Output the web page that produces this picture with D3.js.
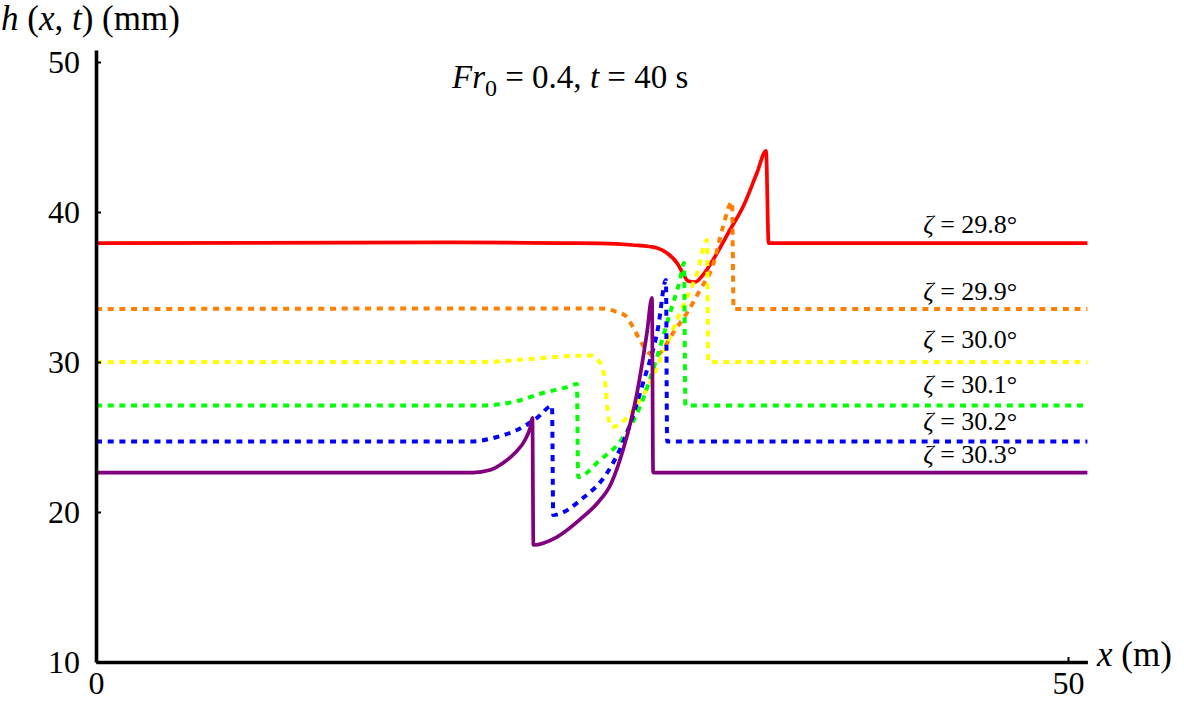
<!DOCTYPE html>
<html>
<head>
<meta charset="utf-8">
<script src="https://cdn.jsdelivr.net/npm/d3@7"></script>
<style>
  body { margin: 0; background: #fff; }
  text { font-family: "Liberation Serif", "Times New Roman", serif; fill: #000; }
</style>
</head>
<body>
<div id="chart"></div>
<script>
// water depth profiles h(x, t) at t = 40 s, one per inclination angle
var red = [[0,37.93],[18.2,37.97],[23.9,37.93],[25.9,37.91],[27.6,37.8],[28.86,37.6],[29.37,37.27],[29.89,36.6],
  [30.19,35.93],[30.45,35.4],[30.81,35.33],[31.22,35.8],[31.74,36.8],[32.1,37.6],[32.61,38.8],[33.28,40.33],
  [34.0,42.6],[34.47,44.07],[34.6,37.93],[51,37.93]];
var orange = [[0,33.53],[23.9,33.57],[25.93,33.57],[26.8,33.33],[27.31,33.0],[27.62,32.33],[27.98,31.47],
  [28.34,30.73],[28.76,30.4],[29.01,30.6],[29.68,31.93],[30.4,33.27],[31.07,34.8],[31.74,36.47],[32.25,39.0],
  [32.72,40.67],[32.8,33.53],[51,33.53]];
var yellow = [[0,30.0],[19.75,30.0],[22.33,30.2],[24.38,30.4],[25.41,30.43],[25.82,30.13],[26.08,29.47],
  [26.23,28.13],[26.34,26.47],[26.54,25.67],[26.8,25.75],[27.62,26.8],[28.5,28.6],[29.17,30.6],[30.04,33.27],
  [30.92,35.93],[31.43,38.13],[31.5,30.0],[51,30.0]];
var green = [[0,27.1],[19.75,27.1],[21.45,27.33],[22.99,27.93],[24.23,28.33],[24.74,28.53],[24.8,22.33],
  [25.93,23.47],[26.95,24.67],[27.98,27.0],[28.86,30.33],[29.53,33.27],[30.04,35.47],[30.25,36.6],[30.32,27.1],[51,27.1]];
var blue = [[0,24.7],[19.24,24.7],[20.63,25.0],[21.66,25.47],[22.69,26.27],[23.46,27.07],[23.52,19.8],
  [25.05,20.93],[26.29,22.6],[27.31,25.27],[28.14,28.6],[28.92,32.33],[29.32,35.47],[29.38,24.7],[51,24.7]];
var purple = [[0,22.63],[19.39,22.63],[20.27,22.8],[20.94,23.27],[21.55,23.93],[22.07,24.8],[22.33,25.6],
  [22.45,26.27],[22.5,17.8],[23.71,18.33],[25.05,19.67],[25.8,20.6],[26.5,21.9],[27.11,24.13],[27.83,27.93],
  [28.34,31.93],[28.6,34.27],[28.66,22.63],[51,22.63]];

var zeta = ["29.8", "29.9", "30.0", "30.1", "30.2", "30.3"];
var labelH = [38.6, 34.13, 30.93, 27.93, 25.47, 23.27];
var labelX = 42.55;
var colors = ["#ff0000", "#ff8000", "#ffff00", "#00ff00", "#0000ff", "#800080"];
var dotted = [false, true, true, true, true, false];
var yTicks = [10, 20, 30, 40, 50];
var xTicks = [0, 50];

var series = [red, orange, yellow, green, blue, purple];

var W = 1184, H = 701;
var svg = d3.select("#chart").append("svg")
  .attr("width", W)
  .attr("height", H);

var x = d3.scaleLinear().domain([0, 51]).range([96, 1087.4]);
var y = d3.scaleLinear().domain([10, 50.8]).range([662, 50]);

var line = d3.line()
  .x(function(d){ return x(d[0]); })
  .y(function(d){ return y(d[1]); })
  .curve(d3.curveMonotoneX);

// curves
svg.selectAll(".curve")
  .data(series).enter().append("path")
  .attr("class", "curve")
  .attr("d", line)
  .attr("fill", "none")
  .attr("stroke", function(d,i){ return colors[i]; })
  .attr("stroke-width", function(d,i){ return dotted[i] ? 4 : 3.7; })
  .attr("stroke-dasharray", function(d,i){ return dotted[i] ? "6,5.7" : null; })
  .attr("stroke-linejoin", "round");

// axes
var yAxis = svg.append("g")
  .attr("transform", "translate(" + x(0) + ",0)")
  .call(d3.axisLeft(y).tickValues(yTicks).tickSizeInner(-5).tickSizeOuter(0).tickPadding(16));
var xAxis = svg.append("g")
  .attr("transform", "translate(0," + y(10) + ")")
  .call(d3.axisBottom(x).tickValues(xTicks).tickSizeInner(-5).tickSizeOuter(0).tickPadding(10));

[yAxis, xAxis].forEach(function(g){
  g.select(".domain").attr("stroke", "#000").attr("stroke-width", 3.6);
  g.selectAll(".tick line").attr("stroke", "#000").attr("stroke-width", 2);
  g.selectAll(".tick text")
    .style("font-family", "'Liberation Serif', serif")
    .style("font-size", "32px")
    .attr("fill", "#000");
});
yAxis.selectAll(".tick text").attr("dy", "0.34em");
xAxis.selectAll(".tick text").attr("dy", "0.68em");

// axis titles
var yTitle = svg.append("text")
  .attr("x", 1).attr("y", 30)
  .style("font-size", "35px");
yTitle.append("tspan").style("font-style", "italic").text("h");
yTitle.append("tspan").text(" (");
yTitle.append("tspan").style("font-style", "italic").text("x");
yTitle.append("tspan").text(", ");
yTitle.append("tspan").style("font-style", "italic").text("t");
yTitle.append("tspan").text(") (mm)");

var xTitle = svg.append("text")
  .attr("x", 1097).attr("y", 666)
  .style("font-size", "35px");
xTitle.append("tspan").style("font-style", "italic").text("x");
xTitle.append("tspan").text(" (m)");

// plot title
var title = svg.append("text")
  .attr("x", 452).attr("y", 88)
  .style("font-size", "33px");
title.append("tspan").style("font-style", "italic").text("Fr");
title.append("tspan").attr("dy", 8).style("font-size", "24px").text("0");
title.append("tspan").attr("dy", -8).text(" = 0.4, ");
title.append("tspan").style("font-style", "italic").text("t");
title.append("tspan").text(" = 40 s");

// curve labels
var labels = svg.selectAll(".zlabel")
  .data(zeta).enter().append("text")
  .attr("class", "zlabel")
  .attr("x", x(labelX))
  .attr("y", function(d,i){ return y(labelH[i]); })
  .style("font-size", "26px");
labels.append("tspan").style("font-style", "italic").text("ζ");
labels.append("tspan").text(function(d){ return " = " + d + "°"; });
</script>
</body>
</html>
